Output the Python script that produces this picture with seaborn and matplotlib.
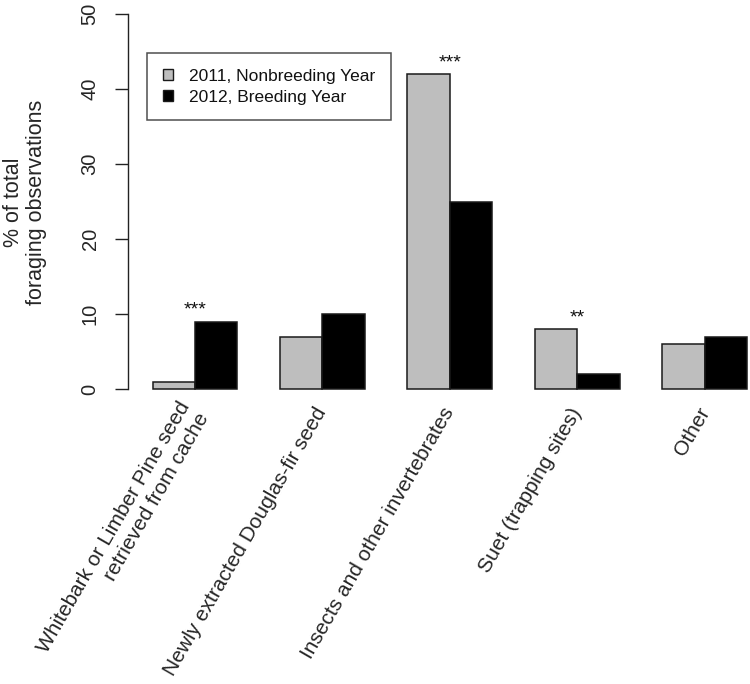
import pandas as pd
import seaborn as sns
import matplotlib.pyplot as plt
from matplotlib.patches import Patch

# Data
categories = [
    'Whitebark or Limber Pine seed\nretrieved from cache',
    'Newly extracted Douglas-fir seed',
    'Insects and other invertebrates',
    'Suet (trapping sites)',
    'Other',
]
years = ['2011, Nonbreeding Year', '2012, Breeding Year']
pct_2011 = [1, 7, 42, 8, 6]
pct_2012 = [9, 10, 25, 2, 7]
stars = ['***', '', '***', '**', '']

df = pd.DataFrame({
    'category': categories * 2,
    'year': [years[0]] * 5 + [years[1]] * 5,
    'pct': pct_2011 + pct_2012,
})

sns.set_style('white')
plt.rcParams['font.family'] = ['Liberation Sans', 'DejaVu Sans']
plt.rcParams['text.color'] = '#111111'

fig = plt.figure(figsize=(7.5, 6.84), dpi=100)
ax = fig.add_axes([128 / 750, 280 / 684, 622 / 750, 404 / 684])

colors = ['#BEBEBE', '#000000']
sns.barplot(data=df, x='category', y='pct', hue='year', palette=colors,
            width=2 / 3, gap=0, saturation=1, edgecolor='#1a1a1a',
            linewidth=1.1, legend=False, ax=ax)

ax.set_xlim(-0.5255, 4.353)
ax.set_ylim(-2, 51.87)

# significance marks above each pair
for i, s in enumerate(stars):
    if s:
        top = max(pct_2011[i], pct_2012[i])
        ax.text(i, top + 1.5, s, ha='center', va='center', fontsize=14)

# axes styling (R base graphics look)
for side in ['top', 'right', 'bottom']:
    ax.spines[side].set_visible(False)
ax.spines['left'].set_bounds(0, 50)
ax.spines['left'].set_linewidth(1.0)
ax.spines['left'].set_color('#222222')
ax.set_yticks([0, 10, 20, 30, 40, 50])
ax.tick_params(axis='y', left=True, direction='out', length=9.4, width=1.0,
               color='#222222', pad=11, labelsize=14.5, labelrotation=90)
for lab in ax.get_yticklabels():
    lab.set_va('center')

ax.set_xticks(range(len(categories)))
ax.set_xticklabels(categories, rotation=60, ha='right', va='center',
                   rotation_mode='anchor', fontsize=15, linespacing=1.2)
ax.tick_params(axis='x', bottom=False, length=0, pad=3.6)

ax.set_xlabel('')
ax.set_ylabel('% of total\nforaging observations', fontsize=15.5, linespacing=1.15)
ax.yaxis.set_label_coords(-0.1656, 0.5)
ax.yaxis.label.set_va('center')

handles = [Patch(facecolor=c, edgecolor='#1a1a1a', linewidth=1.0) for c in colors]
leg = ax.legend(handles, years, loc='upper left',
                bbox_to_anchor=(19 / 622, (404 - 53) / 404), borderaxespad=0,
                frameon=True, fancybox=False, fontsize=12.5,
                handlelength=0.6, handleheight=0.6, handletextpad=0.9,
                labelspacing=0.35, borderpad=0.9)
leg.get_frame().set_edgecolor('#222222')
leg.get_frame().set_linewidth(1.1)

plt.savefig('out.png', dpi=100)
